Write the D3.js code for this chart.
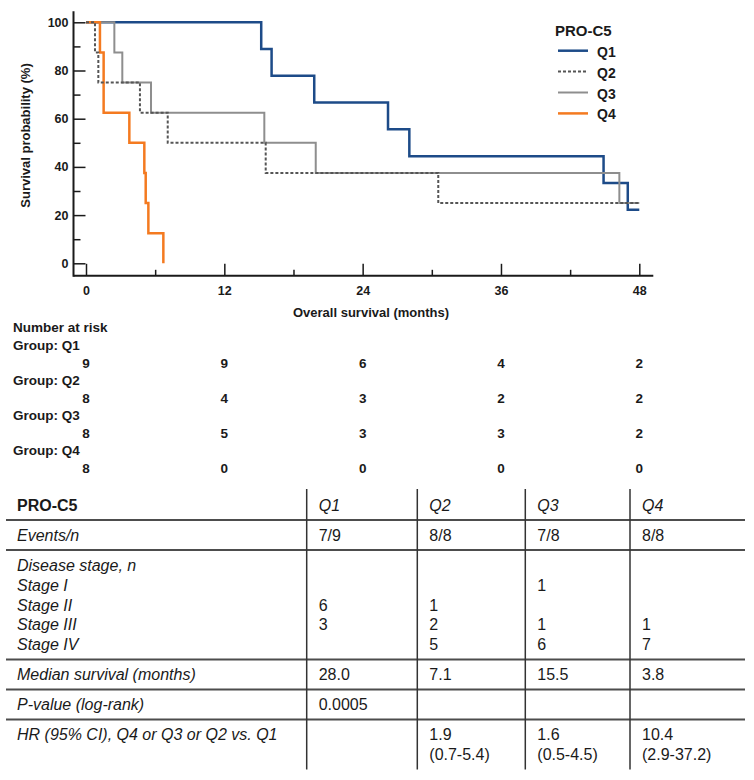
<!DOCTYPE html>
<html>
<head>
<meta charset="utf-8">
<script src="https://cdn.jsdelivr.net/npm/d3@7"></script>
<style>
    body { margin: 0; background: #fff; }
</style>
</head>
<body>
<div id="chart"></div>
<script>
// groupes et courbes de survie (mois, %)
const groups = ["Q1", "Q2", "Q3", "Q4"];
const q1Times = [0, 15.2, 16.1, 19.8, 26.2, 28.05, 44.9, 47.0, 48.0];
const q1Surv = [100, 88.9, 77.8, 66.7, 55.6, 44.4, 33.3, 22.2, 22.2];
const q2Times = [0, 0.78, 1.07, 4.68, 7.09, 15.59, 30.56, 48.0];
const q2Surv = [100, 87.5, 75, 62.5, 50, 37.5, 25, 25];
const q3Times = [0, 2.46, 3.15, 5.64, 15.47, 19.93, 46.27, 48.0];
const q3Surv = [100, 87.5, 75, 62.5, 50, 37.5, 25, 25];
const q4Times = [0, 1.21, 1.53, 3.76, 5.06, 5.18, 5.41, 6.71];
const q4Surv = [100, 87.5, 62.5, 50, 37.5, 25, 12.5, 0];

// ticks
const xTicks = [0, 12, 24, 36, 48];
const xMinorTicks = [6, 18, 30, 42];
const yTicks = [0, 20, 40, 60, 80, 100];
const yMinorTicks = [10, 30, 50, 70, 90];

// nombre a risque
const riskQ1 = [9, 9, 6, 4, 2];
const riskQ2 = [8, 4, 3, 2, 2];
const riskQ3 = [8, 5, 3, 3, 2];
const riskQ4 = [8, 0, 0, 0, 0];

// tableau
const tableTitle = "PRO-C5";
const eventsN = ["7/9", "8/8", "7/8", "8/8"];
const stageLabels = ["Stage I", "Stage II", "Stage III", "Stage IV"];
const stageI = ["", "", "1", ""];
const stageII = ["6", "1", "", ""];
const stageIII = ["3", "2", "1", "1"];
const stageIV = ["", "5", "6", "7"];
const medianSurv = ["28.0", "7.1", "15.5", "3.8"];
const pValue = "0.0005";
const hrValues = ["", "1.9", "1.6", "10.4"];
const hrCI = ["", "(0.7-5.4)", "(0.5-4.5)", "(2.9-37.2)"];

const width = 754;
const height = 780;
const font = "'Liberation Sans', Arial, sans-serif";
const ink = "#1a1a1a";

const color = d3.scaleOrdinal()
    .domain(groups)
    .range(["#1d4b88", "#555555", "#8e8e8e", "#f47a20"]);
const strokeW = { Q1: 2.5, Q2: 2, Q3: 2, Q4: 2.5 };
const dash = { Q1: null, Q2: "3,2", Q3: null, Q4: null };

const svg = d3.select("#chart").append("svg")
    .attr("width", width)
    .attr("height", height)
    .attr("viewBox", [0, 0, width, height])
    .style("font-family", font);

svg.append("rect").attr("width", width).attr("height", height).attr("fill", "#fff");

// echelles
const x = d3.scaleLinear().domain([0, 48]).range([86, 639.3]);
const y = d3.scaleLinear().domain([0, 100]).range([263.3, 22.3]);
const axisPad = 12.5;

// axe x
const gx = svg.append("g")
    .attr("transform", `translate(0,${y(0) + axisPad})`)
    .attr("color", ink)
    .call(d3.axisBottom(x).tickValues(xTicks).tickSize(-12).tickSizeOuter(0).tickPadding(10));
gx.select(".domain").remove();
gx.selectAll(".tick line").attr("stroke-width", 1.5);
gx.selectAll("text")
    .attr("font-family", font).attr("font-size", 12.5).attr("font-weight", "bold").attr("fill", ink);
gx.append("g")
    .call(d3.axisBottom(x).tickValues(xMinorTicks).tickSize(-6).tickFormat(""))
    .call(g => g.select(".domain").remove())
    .selectAll("line").attr("stroke-width", 1.5);
gx.append("line")
    .attr("x1", x(0) - axisPad).attr("x2", x(48) + 14)
    .attr("stroke", ink).attr("stroke-width", 2);
gx.append("text")
    .attr("x", 371)
    .attr("y", 41)
    .attr("text-anchor", "middle")
    .attr("font-family", font).attr("font-size", 13).attr("font-weight", "bold")
    .attr("fill", ink)
    .text("Overall survival (months)");

// axe y
const gy = svg.append("g")
    .attr("transform", `translate(${x(0) - axisPad},0)`)
    .attr("color", ink)
    .call(d3.axisLeft(y).tickValues(yTicks).tickSize(-12).tickSizeOuter(0).tickPadding(5));
gy.select(".domain").remove();
gy.selectAll(".tick line").attr("stroke-width", 1.5);
gy.selectAll("text")
    .attr("font-family", font).attr("font-size", 12.5).attr("font-weight", "bold").attr("fill", ink);
gy.append("g")
    .call(d3.axisLeft(y).tickValues(yMinorTicks).tickSize(-7).tickFormat(""))
    .call(g => g.select(".domain").remove())
    .selectAll("line").attr("stroke-width", 1.5);
gy.append("line")
    .attr("y1", y(100) - 11).attr("y2", y(0) + axisPad + 1)
    .attr("stroke", ink).attr("stroke-width", 2);
gy.append("text")
    .attr("transform", "rotate(-90)")
    .attr("x", -135.5)
    .attr("y", -44)
    .attr("text-anchor", "middle")
    .attr("font-family", font).attr("font-size", 13).attr("font-weight", "bold")
    .attr("fill", ink)
    .text("Survival probability (%)");

// courbes Kaplan-Meier
const timesByGroup = { Q1: q1Times, Q2: q2Times, Q3: q3Times, Q4: q4Times };
const survByGroup = { Q1: q1Surv, Q2: q2Surv, Q3: q3Surv, Q4: q4Surv };
const drawOrder = ["Q1", "Q3", "Q4", "Q2"];

const line = d3.line()
    .x(d => x(d[0]))
    .y(d => y(d[1]))
    .curve(d3.curveStepAfter);

svg.append("g")
    .selectAll("path")
    .data(drawOrder)
    .join("path")
    .attr("fill", "none")
    .attr("stroke", d => color(d))
    .attr("stroke-width", d => strokeW[d])
    .attr("stroke-dasharray", d => dash[d])
    .attr("d", d => line(d3.zip(timesByGroup[d], survByGroup[d])));

// legende
const legend = svg.append("g").attr("transform", "translate(558,0)");
legend.append("text")
    .attr("x", -3).attr("y", 36)
    .attr("font-size", 15).attr("font-weight", "bold").attr("fill", ink)
    .text(tableTitle);
const items = legend.selectAll(".legend")
    .data(groups)
    .join("g")
    .attr("class", "legend")
    .attr("transform", (d, i) => `translate(0,${50.7 + i * 20.9})`);
items.append("line")
    .attr("x2", 30)
    .attr("stroke", d => color(d))
    .attr("stroke-width", d => strokeW[d])
    .attr("stroke-dasharray", d => dash[d]);
items.append("text")
    .attr("x", 39).attr("y", 6)
    .attr("font-size", 14).attr("font-weight", "bold").attr("fill", ink)
    .text(d => d);

// nombre a risque
const risk = svg.append("g")
    .attr("font-weight", "bold").attr("font-size", 13.5).attr("fill", ink);
risk.append("text").attr("x", 13).attr("y", 331.5).text("Number at risk");
const riskRows = [riskQ1, riskQ2, riskQ3, riskQ4];
riskRows.forEach((row, i) => {
    const top = 350 + i * 35;
    risk.append("text").attr("x", 13).attr("y", top).text("Group: " + groups[i]);
    risk.selectAll(null)
        .data(row)
        .join("text")
        .attr("x", (d, j) => x(xTicks[j]))
        .attr("y", top + 18)
        .attr("text-anchor", "middle")
        .text(d => d);
});

// tableau
const colEdges = [306.7, 417.3, 525.3, 630];
const colText = colEdges.map(e => e + 12);
const tableLeft = 6;
const tableRight = 745;
const tbl = svg.append("g").attr("font-size", 16).attr("fill", ink);

const hLines = [520, 550, 659.5, 689.5, 719.5];
tbl.selectAll(".hline")
    .data(hLines)
    .join("line")
    .attr("class", "hline")
    .attr("x1", tableLeft).attr("x2", tableRight)
    .attr("y1", d => d).attr("y2", d => d)
    .attr("stroke", "#4d4d4d").attr("stroke-width", 2);
tbl.selectAll(".vline")
    .data(colEdges)
    .join("line")
    .attr("class", "vline")
    .attr("x1", d => d).attr("x2", d => d)
    .attr("y1", 489).attr("y2", 769.5)
    .attr("stroke", "#333").attr("stroke-width", 1.5);

function rowLabel(txt, yy, bold) {
    tbl.append("text")
        .attr("x", 17).attr("y", yy)
        .attr("font-style", bold ? null : "italic")
        .attr("font-weight", bold ? "bold" : null)
        .text(txt);
}
function rowValues(vals, yy, italic) {
    tbl.selectAll(null)
        .data(vals)
        .join("text")
        .attr("x", (d, i) => colText[i])
        .attr("y", yy)
        .attr("font-style", italic ? "italic" : null)
        .text(d => d);
}

rowLabel(tableTitle, 510.7, true);
rowValues(groups, 510.7, true);
rowLabel("Events/n", 541);
rowValues(eventsN, 541);
rowLabel("Disease stage, n", 571);
const stageRows = [stageI, stageII, stageIII, stageIV];
stageRows.forEach((vals, i) => {
    const yy = 591 + i * 19.7;
    rowLabel(stageLabels[i], yy);
    rowValues(vals, yy);
});
rowLabel("Median survival (months)", 680);
rowValues(medianSurv, 680);
rowLabel("P-value (log-rank)", 710);
rowValues([pValue], 710);
rowLabel("HR (95% CI), Q4 or Q3 or Q2 vs. Q1", 740);
rowValues(hrValues, 740);
rowValues(hrCI, 760);
</script>
</body>
</html>
